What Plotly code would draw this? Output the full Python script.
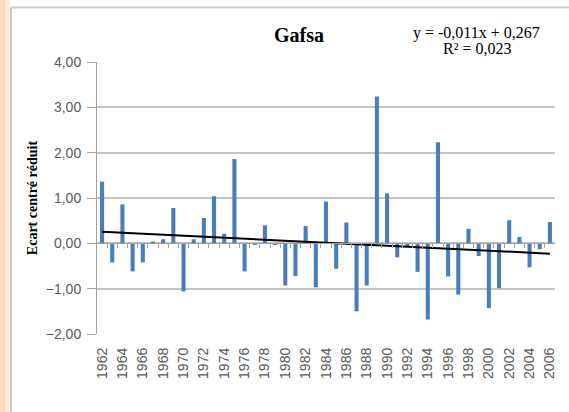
import plotly.graph_objects as go

# Standardised anomaly per year, Gafsa station
years = list(range(1962, 2007))
ecart = [
    1.36, -0.42, 0.86, -0.62, -0.42, 0.04, 0.09, 0.78, -1.06, 0.09,
    0.56, 1.04, 0.21, 1.86, -0.62, -0.03, 0.40, -0.03, -0.93, -0.72,
    0.38, -0.97, 0.92, -0.56, 0.46, -1.50, -0.93, 3.24, 1.10, -0.31,
    -0.06, -0.63, -1.68, 2.23, -0.73, -1.13, 0.32, -0.28, -1.43, -0.99,
    0.51, 0.14, -0.53, -0.13, 0.47,
]
year_ticks = list(range(1962, 2007, 2))
y_ticks = [-2, -1, 0, 1, 2, 3, 4]

# Linear trend as reported: y = -0,011x + 0,267 (x = 1..n)
slope, intercept, r2 = -0.011, 0.267, 0.023
idx = list(range(1, len(years) + 1))
trend = [slope * i + intercept for i in idx]

W, H = 569, 412
L, R, T, B = 97, 14, 62, 78
pw, ph = W - L - R, H - T - B


def px(x):
    return (x - L) / pw


def py(y):
    return (H - B - y) / ph


fig = go.Figure()
fig.add_trace(go.Bar(
    x=years, y=ecart, width=0.4,
    marker=dict(color="#4A7EBB", line=dict(width=0)),
    showlegend=False, hoverinfo="x+y",
))
fig.add_trace(go.Scatter(
    x=years, y=trend, mode="lines",
    line=dict(color="#000000", width=2), showlegend=False,
))
# helper trace so the zero-crossing category axis is drawn
fig.add_trace(go.Scatter(
    x=[years[0], years[-1]], y=[0, 0], xaxis="x2", mode="lines",
    line=dict(width=0), showlegend=False, hoverinfo="skip",
))

grid_col = "#C4C4C4"
sans = "Liberation Sans, Arial"
serif = "Liberation Serif, Times New Roman"
fig.update_layout(
    width=W, height=H,
    margin=dict(l=L, r=R, t=T, b=B),
    paper_bgcolor="#FFFFFF", plot_bgcolor="#FFFFFF",
    separators=", ",
    xaxis=dict(
        range=[years[0] - 0.5, years[-1] + 0.5],
        tickmode="array", tickvals=year_ticks,
        ticktext=[str(y) for y in year_ticks],
        tickangle=-90, ticks="", ticklabelstandoff=10,
        tickfont=dict(family=sans, size=14, color="#595959"),
        showgrid=False, zeroline=False, showline=False,
    ),
    xaxis2=dict(
        overlaying="x", anchor="free", position=(0 - y_ticks[0]) / (y_ticks[-1] - y_ticks[0]),
        range=[years[0] - 0.5, years[-1] + 0.5],
        tickmode="array", tickvals=[y + 0.5 for y in years[:-1]],
        ticks="outside", ticklen=4, tickcolor="#A0A0A0", tickwidth=1,
        showticklabels=False, showgrid=False, zeroline=False,
        showline=True, linecolor="#A0A0A0", linewidth=1,
    ),
    yaxis=dict(
        range=[y_ticks[0], y_ticks[-1]],
        tickmode="array", tickvals=y_ticks, tickformat=".2f",
        ticks="outside", ticklen=9, tickcolor="#A0A0A0", ticklabelstandoff=3,
        tickfont=dict(family=sans, size=14, color="#595959"),
        showgrid=True, gridcolor=grid_col, gridwidth=1.8,
        zeroline=False, showline=True, linecolor="#A0A0A0", linewidth=1,
        title=dict(text="<b>Ecart centré réduit</b>", standoff=4,
                   font=dict(family=serif, size=14, color="#000000")),
    ),
)

# page decoration: orange side strip and chart frame
shapes = [
    dict(type="rect", xref="paper", yref="paper", x0=px(0), x1=px(5), y0=py(H), y1=py(0),
         fillcolor="#FADDB8", line=dict(width=0), layer="below"),
    dict(type="rect", xref="paper", yref="paper", x0=px(5), x1=px(10), y0=py(H), y1=py(0),
         fillcolor="#FCEBD4", line=dict(width=0), layer="below"),
    dict(type="line", xref="paper", yref="paper", x0=px(11), x1=px(W), y0=py(7.5), y1=py(7.5),
         line=dict(color="#CBCBCB", width=2)),
    dict(type="line", xref="paper", yref="paper", x0=px(11), x1=px(11), y0=py(7.5), y1=py(H),
         line=dict(color="#CBCBCB", width=2)),
]
fig.update_layout(shapes=shapes)

fig.add_annotation(
    text="<b>Gafsa</b>", xref="paper", yref="paper", x=px(299), y=py(35),
    xanchor="center", yanchor="middle",
    showarrow=False, font=dict(family=serif, size=20, color="#000000"),
)
fig.add_annotation(
    text=f"y = {slope:.3f}x + {intercept:.3f}".replace(".", ","),
    xref="paper", yref="paper", x=px(476), y=py(33),
    xanchor="center", yanchor="middle", showarrow=False,
    font=dict(family=serif, size=16, color="#000000"),
)
fig.add_annotation(
    text=f"R² = {r2:.3f}".replace(".", ","),
    xref="paper", yref="paper", x=px(477), y=py(49),
    xanchor="center", yanchor="middle", showarrow=False,
    font=dict(family=serif, size=16, color="#000000"),
)

fig.write_html("out.html")
